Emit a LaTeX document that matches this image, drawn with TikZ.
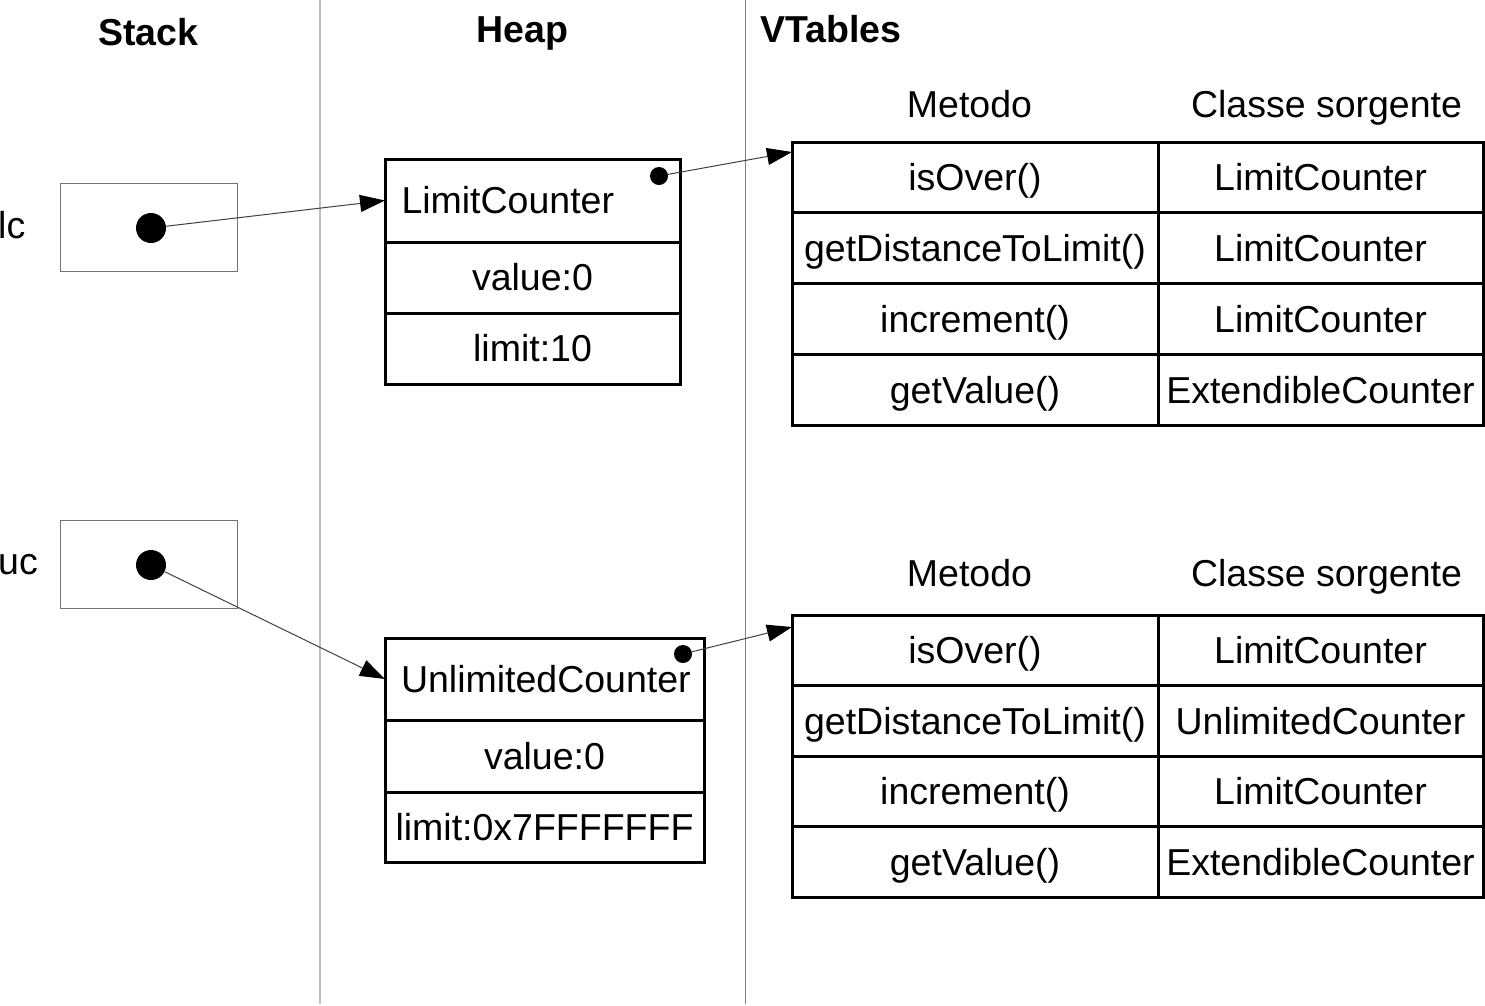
\documentclass[tikz,border=0pt]{standalone}
\usepackage{fontspec}
\setmainfont{Liberation Sans}
\usetikzlibrary{positioning,arrows.meta}
\newcommand\grand{\fontsize{37.5}{44}\selectfont}

\tikzset{
  slot/.style={draw=black!55, line width=1pt, minimum width=177pt, minimum height=88pt, outer sep=0pt},
  campo/.style={draw, line width=3pt, outer sep=0pt, inner sep=0pt, text height=26.8pt, text depth=0pt},
  titolo/.style={align=left, inner xsep=16.5pt},
  punto/.style={circle, fill, inner sep=0pt, minimum size=#1},
  puntatore/.style={draw=black!75, line width=1pt, -{Triangle[length=25pt,width=17pt,black]}},
}

\begin{document}
\begin{tikzpicture}[x=1pt,y=-1pt,font=\grand]
\useasboundingbox (0,0) rectangle (1485,1005);

	%Colonnes
    \draw[draw=black!25, line width=2pt] (320,0) -- (320,1004);
    \draw[draw=black!50, line width=1pt] (745.5,0) -- (745.5,1004);

	%Titres
    \node[anchor=base, font=\grand\bfseries] (stack) at (148.5,45) {Stack};
    \node[anchor=base, font=\grand\bfseries] (heap) at (522.5,42) {Heap};
    \node[anchor=base west, inner sep=0pt, font=\grand\bfseries] (vtables) at (760,42) {VTables};

	%Stack
    \node[anchor=base west, inner sep=0pt] (lc) at (-2,238) {lc};
    \node[slot, anchor=north west] (lcslot) at (60,183) {};
    \node[punto=30pt] (lcdot) at (151,228) {};

    \node[anchor=base west, inner sep=0pt] (uc) at (-2,574) {uc};
    \node[slot, anchor=north west] (ucslot) at (60,520) {};
    \node[punto=30pt] (ucdot) at (151,565) {};

	%Heap
    \node[campo, titolo, text width=262pt, minimum height=83pt, anchor=north west] (lcobj) at (385,159) {LimitCounter};
    \node[campo, minimum width=295pt, minimum height=71pt, below=0pt of lcobj] (lcval) {value:0};
    \node[campo, minimum width=295pt, minimum height=71pt, below=0pt of lcval] (lclim) {limit:10};
    \node[punto=18pt] (lcptr) at ([xshift=-21pt,yshift=-17pt]lcobj.north east) {};

    \node[campo, titolo, inner xsep=16pt, text width=287pt, minimum height=82pt, anchor=north west] (ucobj) at (385,638) {UnlimitedCounter};
    \node[campo, minimum width=319pt, minimum height=72pt, below=0pt of ucobj] (ucval) {value:0};
    \node[campo, minimum width=319pt, minimum height=70pt, below=0pt of ucval] (uclim) {limit:0x7FFFFFFF};
    \node[punto=18pt] (ucptr) at ([xshift=-21pt,yshift=-16pt]ucobj.north east) {};

	%VTables
    \node[anchor=base] (metodoA) at (969.5,117) {Metodo};
    \node[anchor=base] (classeA) at (1326.5,117) {Classe sorgente};
    \foreach \m/\c [count=\i] in {isOver()/LimitCounter, getDistanceToLimit()/LimitCounter, increment()/LimitCounter, getValue()/ExtendibleCounter}{
      \node[campo, anchor=north west, minimum width=366pt, minimum height=70.75pt] (vtA-m\i) at (792,{142+70.75*(\i-1)}) {\m};
      \node[campo, anchor=north west, minimum width=325pt, minimum height=70.75pt] (vtA-c\i) at (vtA-m\i.north east) {\c};
    }

    \node[anchor=base] (metodoB) at (969.5,586) {Metodo};
    \node[anchor=base] (classeB) at (1326.5,586) {Classe sorgente};
    \foreach \m/\c [count=\i] in {isOver()/LimitCounter, getDistanceToLimit()/UnlimitedCounter, increment()/LimitCounter, getValue()/ExtendibleCounter}{
      \node[campo, anchor=north west, minimum width=366pt, minimum height=70.5pt] (vtB-m\i) at (792,{615+70.5*(\i-1)}) {\m};
      \node[campo, anchor=north west, minimum width=325pt, minimum height=70.5pt] (vtB-c\i) at (vtB-m\i.north east) {\c};
    }

	%Fleches
    \coordinate (vtAin) at ([yshift=-10pt]vtA-m1.north west);
    \coordinate (vtBin) at ([yshift=-12pt]vtB-m1.north west);
    \draw[puntatore] (lcdot) -- (lcobj.west);
    \draw[puntatore] (ucdot) -- (ucobj.west);
    \draw[puntatore] (lcptr) -- (vtAin);
    \draw[puntatore] (ucptr) -- (vtBin);

\end{tikzpicture}
\end{document}
